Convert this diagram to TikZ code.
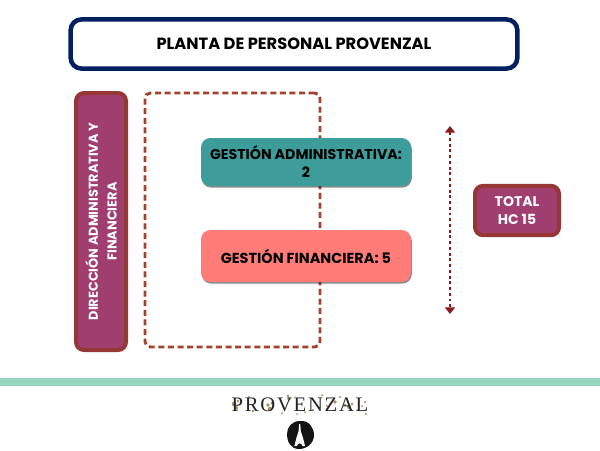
\documentclass[tikz,border=0pt]{standalone}
\usepackage{fontspec}
\setmainfont{Poppins}[BoldFont={Poppins Bold}]
\newfontfamily\logofont{Liberation Serif}
\usetikzlibrary{shadows,arrows.meta}
\definecolor{navy}{HTML}{002060}
\definecolor{plum}{HTML}{A03E70}
\definecolor{plumedge}{HTML}{953735}
\definecolor{dashred}{HTML}{A5402D}
\definecolor{tealbox}{HTML}{3C9D9B}
\definecolor{pinkbox}{HTML}{FF7C78}
\definecolor{arrowred}{HTML}{8B1A1A}
\definecolor{band}{HTML}{96D5BE}
\definecolor{gold}{HTML}{A88F55}
\tikzset{
  x=0.75pt,y=-0.75pt,
  softshadow/.style={drop shadow={shadow xshift=0.6pt,shadow yshift=-1.2pt,opacity=.45,fill=black}},
  boxbase/.style={rectangle,align=center,inner sep=0pt,font=\bfseries},
  titlebox/.style={boxbase,draw=navy,line width=3.4pt,fill=white,rounded corners=8pt,minimum width=335pt,minimum height=36.8pt,font=\bfseries\fontsize{12.2pt}{14pt}\selectfont},
  plumbox/.style={boxbase,draw=plumedge,line width=3pt,fill=plum,rounded corners=6pt,text=white,softshadow},
  flatbox/.style={boxbase,rounded corners=7pt,minimum width=157.5pt,softshadow,font=\bfseries\fontsize{10.65pt}{13.5pt}\selectfont},
  groupframe/.style={rectangle,draw=dashred,line width=2.2pt,rounded corners=4pt,dash pattern=on 4.5pt off 2.7pt,minimum width=131.25pt,minimum height=190.5pt,inner sep=0pt},
  rangearrow/.style={color=arrowred,line width=2.2pt,dash pattern=on 2.2pt off 2.1pt,{Triangle[length=5pt,width=7.5pt]}-{Triangle[length=5pt,width=7.5pt]}},
  speck/.style={fill=gold,draw=none}
}
\begin{document}
\begin{tikzpicture}
\useasboundingbox (0,0) rectangle (600,450);
\fill[white] (0,0) rectangle (600,450);
\node[titlebox] (title) at (294,44) {PLANTA DE PERSONAL PROVENZAL};
\node[plumbox,minimum width=37.5pt,minimum height=192.75pt] (dir) at (101,221.5) {};
\node[rotate=90,align=center,text=white,font=\bfseries\fontsize{9.65pt}{14.2pt}\selectfont] (dirlabel) at (dir.center) {DIRECCIÓN ADMINISTRATIVA Y\\FINANCIERA};
\node[groupframe] (group) at (232.5,220) {};
\node[flatbox,fill=tealbox,minimum height=36pt] (adm) at (306,162) {GESTIÓN ADMINISTRATIVA:\\2};
\node[flatbox,fill=pinkbox,minimum height=39pt,font=\bfseries\fontsize{10.85pt}{13.5pt}\selectfont] (fin) at (306,256) {GESTIÓN FINANCIERA: 5};
\coordinate (rangetop) at (450,126);
\coordinate (rangebot) at (450,314);
\draw[rangearrow] (rangetop) -- (rangebot);
\node[plumbox,minimum width=63pt,minimum height=37pt,text=white,font=\bfseries\fontsize{10.5pt}{13.8pt}\selectfont] (total) at (517,210.5) {TOTAL\\HC 15};
\fill[band] (0,378) rectangle (600,386);
% logo specks
\foreach \px/\py/\pr in {234/404/2.2,236/408/2,238/401/1.4,249/397/1.2,253/411/1.4,268/405/1.8,270/409/2.2,272/403/1.6,288/396/1.4,282/413/1,289/399/1.8,305/412/1,313/410/1.2,322/395/1,327/406/1.2,335/402/1.8,340/397/1.1,345/405/1.5,349/407/2,352/404/1.4,358/410/1.1,362/406/1,365/402/1.2,366/414/1.1,297/414/.8}
  \fill[speck] (\px,\py) circle[radius=\pr];
\node[inner sep=0pt,font=\logofont\fontsize{15.5pt}{15.5pt}\selectfont,text=black!85] (logo) at (300,405) {P\kern1.3ptR\kern1.3ptO\kern1.3ptV\kern1.3ptE\kern1.3ptN\kern1.3ptZ\kern1.3ptA\kern1.3ptL};
% logo mark
\fill[black!92] (300,421) .. controls (309,420) and (314,428) .. (314,435) .. controls (314,443) and (307,449) .. (299,449) .. controls (291,449) and (287,442) .. (287,434) .. controls (287,427) and (292,421) .. (300,421) -- cycle;
\fill[white] (299.2,424) -- (300.2,424) -- (300.8,431) -- (303,438) -- (305,446) -- (302.5,446) .. controls (301.5,442.5) and (298,442.5) .. (296.9,446) -- (294.4,446) -- (296.4,438) -- (298.6,431) -- cycle;
\end{tikzpicture}
\end{document}
